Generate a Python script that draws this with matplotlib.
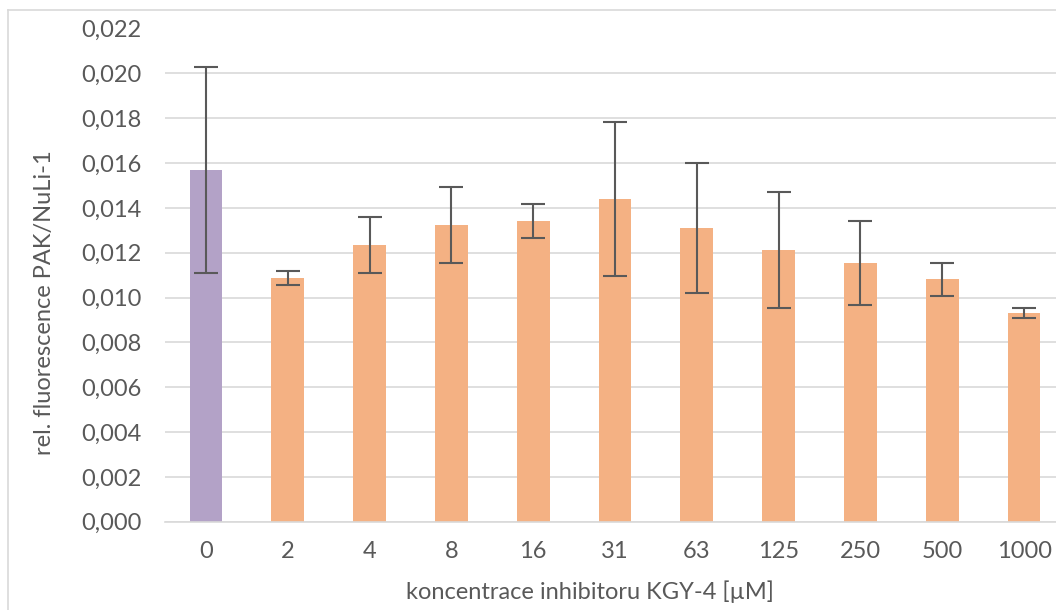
import matplotlib
matplotlib.use("Agg")
import matplotlib.pyplot as plt
from matplotlib.lines import Line2D
from matplotlib.ticker import FuncFormatter

# concentrations of KGY-4 [uM]
concentrations = ["0", "2", "4", "8", "16", "31", "63", "125", "250", "500", "1000"]
fluorescence = [0.01569, 0.01087, 0.01234, 0.01322, 0.01341, 0.01439,
                0.01310, 0.01212, 0.01154, 0.01081, 0.00931]
errors = [0.00461, 0.00032, 0.00125, 0.00169, 0.00074, 0.00344,
          0.00291, 0.00259, 0.00188, 0.00074, 0.00023]
y_ticks = [0.000, 0.002, 0.004, 0.006, 0.008, 0.010, 0.012, 0.014,
           0.016, 0.018, 0.020, 0.022]

plt.rcParams["font.family"] = ["Lato", "DejaVu Sans"]
text_color = "#595959"
fs = 17

fig = plt.figure(figsize=(10.56, 6.10), dpi=100)
W, H = 1056, 610
ax = fig.add_axes([165 / W, (H - 521.7) / H, 900 / W, 493.2 / H])

colors = ["#b3a2c7"] + ["#f4b183"] * (len(concentrations) - 1)
x = list(range(len(concentrations)))
ax.bar(x, fluorescence, width=0.4, color=colors, zorder=2)
ax.errorbar(x, fluorescence, yerr=errors, fmt="none", ecolor="#595959",
            elinewidth=1.5, capsize=8.5, capthick=1.5, zorder=3)

ax.set_xlim(-0.5, len(concentrations) - 0.5)
ax.set_ylim(0, 0.022)
ax.set_yticks(y_ticks)
ax.yaxis.set_major_formatter(FuncFormatter(lambda v, _: f"{v:.3f}".replace(".", ",")))
ax.set_xticks(x, concentrations)
ax.grid(axis="y", color="#d9d9d9", linewidth=1.2, zorder=0)
for side in ["top", "right", "left"]:
    ax.spines[side].set_visible(False)
ax.spines["bottom"].set_color("#d9d9d9")
ax.spines["bottom"].set_linewidth(1.2)
ax.tick_params(axis="both", length=0, labelsize=fs, colors=text_color)
ax.tick_params(axis="y", pad=17)
ax.tick_params(axis="x", pad=14)

fig.text(45 / W, 1 - 303 / H, "rel. fluorescence PAK/NuLi-1", rotation=90,
         ha="center", va="center", fontsize=fs, color=text_color)
fig.text(590 / W, 1 - 592 / H, "koncentrace inhibitoru KGY-4 [µM]",
         ha="center", va="center", fontsize=fs, color=text_color)

# chart area border (left and top edges visible)
fig.add_artist(Line2D([8 / W, 8 / W], [0, 1 - 10 / H], transform=fig.transFigure,
                      color="#d9d9d9", linewidth=1.2))
fig.add_artist(Line2D([8 / W, 1], [1 - 10 / H, 1 - 10 / H], transform=fig.transFigure,
                      color="#d9d9d9", linewidth=1.2))

fig.savefig("out.png", dpi=100)
